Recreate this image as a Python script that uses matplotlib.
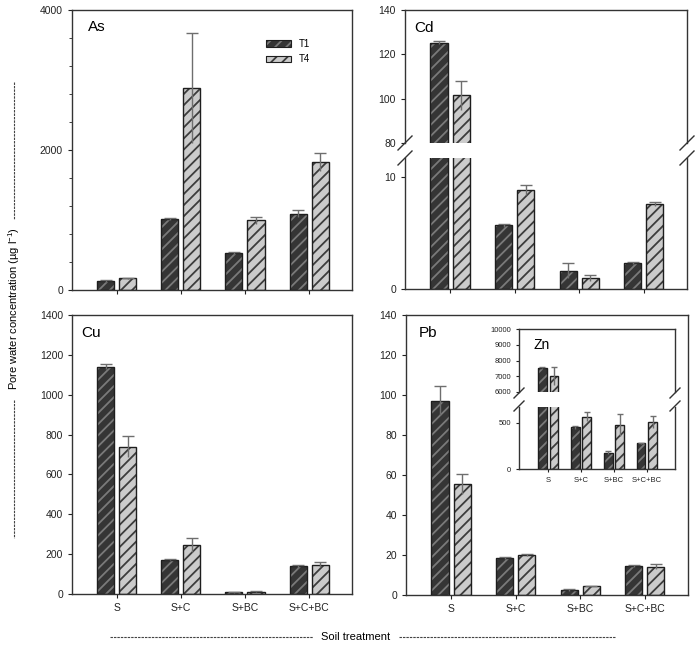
import numpy as np
import matplotlib
matplotlib.use("Agg")
import matplotlib.pyplot as plt
from matplotlib.lines import Line2D
from matplotlib.patches import Patch
from matplotlib.legend_handler import HandlerTuple

plt.rcParams['font.family'] = ['Liberation Sans', 'DejaVu Sans']
plt.rcParams['mathtext.fontset'] = 'custom'
plt.rcParams['mathtext.rm'] = 'Liberation Sans'
plt.rcParams['mathtext.it'] = 'Liberation Sans:italic'
plt.rcParams['hatch.linewidth'] = 1.3

treatments = ['S', 'S+C', 'S+BC', 'S+C+BC']
series = ['T1', 'T4']

# pore water concentrations (ug/l), mean and standard error
as_t1 = [128, 1009, 524, 1090]
as_t1_err = [8, 15, 14, 53]
as_t4 = [167, 2880, 995, 1824]
as_t4_err = [8, 787, 53, 128]

cd_t1 = [125.3, 5.68, 1.63, 2.31]
cd_t1_err = [0.7, 0.1, 0.68, 0.09]
cd_t4 = [101.5, 8.82, 0.98, 7.6]
cd_t4_err = [6.5, 0.44, 0.29, 0.18]

cu_t1 = [1141, 172, 8, 139]
cu_t1_err = [13, 3, 1, 8]
cu_t4 = [740, 247, 12, 147]
cu_t4_err = [55, 35, 2, 12]

pb_t1 = [97.2, 18.7, 2.5, 14.5]
pb_t1_err = [7.3, 0.5, 0.7, 0.3]
pb_t4 = [55.5, 20.0, 4.5, 14.2]
pb_t4_err = [5.0, 0.3, 0.2, 1.1]

zn_t1 = [7530, 450, 176, 277]
zn_t1_err = [30, 14, 18, 8]
zn_t4 = [7000, 565, 475, 511]
zn_t4_err = [580, 47, 115, 64]

W, H = 700, 649
fig = plt.figure(figsize=(W / 100, H / 100), dpi=100)

T1_FACE, T1_HATCH = '#353535', '#7a7a7a'
T4_FACE, T4_HATCH = '#cbcbcb', '#3c3c3c'
EDGE = '#1e1e1e'
SPINE = '#333333'
x = np.arange(len(treatments))


def rect(l, t, r, b):
    return [l / W, 1 - b / H, (r - l) / W, (b - t) / H]


def fpx(px, py):
    return px / W, 1 - py / H


def style(ax, fs=7.5, xlim=(-0.70, 3.67)):
    ax.set_xlim(*xlim)
    for s in ax.spines.values():
        s.set_color(SPINE)
        s.set_linewidth(1.0)
    ax.tick_params(direction='out', length=3, width=0.8, colors='#222222',
                   labelsize=fs, top=False, right=False)
    ax.set_xticks(x)


def draw_bars(ax, t1, e1, t4, e4, width=0.266, off=0.172, cap=4):
    for vals, errs, face, hc, sgn in [(t1, e1, T1_FACE, T1_HATCH, -1),
                                      (t4, e4, T4_FACE, T4_HATCH, 1)]:
        pos = x + sgn * off
        ax.bar(pos, vals, width, color=face, edgecolor=hc, hatch='///', lw=0, zorder=2)
        ax.bar(pos, vals, width, fill=False, edgecolor=EDGE, lw=1.0, zorder=3)
        eb = ax.errorbar(pos, vals, yerr=errs, fmt='none', ecolor='#6e6e6e',
                         elinewidth=1.0, capsize=cap, capthick=1.0, zorder=4)
        eb[1][0].set_visible(False)


def slash(cx, cy, dx=7, dy=7):
    x0, y0 = fpx(cx - dx, cy + dy)
    x1, y1 = fpx(cx + dx, cy - dy)
    fig.add_artist(Line2D([x0, x1], [y0, y1], transform=fig.transFigure,
                          color=SPINE, lw=1.0))


# ---- As ----
ax_as = fig.add_axes(rect(72, 10, 352, 290))
draw_bars(ax_as, as_t1, as_t1_err, as_t4, as_t4_err)
style(ax_as)
ax_as.set_ylim(0, 4000)
ax_as.set_yticks([0, 2000, 4000])
ax_as.set_yticks(np.arange(0, 4001, 400), minor=True)
ax_as.tick_params(which='minor', direction='out', length=2, width=0.6, colors='#222222')
ax_as.set_xticklabels([])
fig.text(*fpx(88, 27), 'As', fontsize=11, va='center', ha='left')

h1 = (Patch(facecolor=T1_FACE, edgecolor=T1_HATCH, hatch='///', lw=0),
      Patch(fill=False, edgecolor=EDGE, lw=0.8))
h4 = (Patch(facecolor=T4_FACE, edgecolor=T4_HATCH, hatch='///', lw=0),
      Patch(fill=False, edgecolor=EDGE, lw=0.8))
fig.legend([h1, h4], series, handler_map={tuple: HandlerTuple(ndivide=1, pad=0)},
           loc='upper left', bbox_to_anchor=fpx(266, 39), frameon=False,
           fontsize=7, handlelength=2.6, handleheight=0.7, labelspacing=0.55,
           handletextpad=0.8, borderpad=0, borderaxespad=0)

# ---- Cd (broken axis) ----
cd_up = fig.add_axes(rect(405, 10, 687, 143))
cd_lo = fig.add_axes(rect(405, 158, 687, 289))
for a in (cd_up, cd_lo):
    draw_bars(a, cd_t1, cd_t1_err, cd_t4, cd_t4_err)
    style(a)
cd_up.set_ylim(80, 140)
cd_up.set_yticks([80, 100, 120, 140])
cd_up.spines['bottom'].set_visible(False)
cd_up.tick_params(bottom=False, labelbottom=False)
cd_lo.set_ylim(0, 11.7)
cd_lo.set_yticks([0, 10])
cd_lo.spines['top'].set_visible(False)
cd_lo.set_xticklabels([])
for cx in (405, 687):
    slash(cx, 143)
    slash(cx, 158)
fig.text(*fpx(414, 28), 'Cd', fontsize=11, va='center', ha='left')

# ---- Cu ----
ax_cu = fig.add_axes(rect(72, 315, 352, 594))
draw_bars(ax_cu, cu_t1, cu_t1_err, cu_t4, cu_t4_err)
style(ax_cu)
ax_cu.set_ylim(0, 1400)
ax_cu.set_yticks(np.arange(0, 1401, 200))
ax_cu.set_xticklabels(treatments, fontsize=7.5)
fig.text(*fpx(81, 333), 'Cu', fontsize=11, va='center', ha='left')

# ---- Pb ----
ax_pb = fig.add_axes(rect(406, 315, 688, 595))
draw_bars(ax_pb, pb_t1, pb_t1_err, pb_t4, pb_t4_err)
style(ax_pb)
ax_pb.set_ylim(0, 140)
ax_pb.set_yticks(np.arange(0, 141, 20))
ax_pb.set_xticklabels(treatments, fontsize=7.5)
fig.text(*fpx(419, 333), 'Pb', fontsize=11, va='center', ha='left')

# ---- Zn inset (broken axis) ----
zn_up = fig.add_axes(rect(519, 329, 675, 392))
zn_lo = fig.add_axes(rect(519, 407, 675, 469))
for a in (zn_up, zn_lo):
    a.set_facecolor('white')
    draw_bars(a, zn_t1, zn_t1_err, zn_t4, zn_t4_err, width=0.27, off=0.18, cap=2.5)
    style(a, fs=5.5, xlim=(-0.88, 3.85))
    a.tick_params(length=2)
zn_up.set_ylim(6000, 10000)
zn_up.set_yticks(np.arange(6000, 10001, 1000))
zn_up.spines['bottom'].set_visible(False)
zn_up.tick_params(bottom=False, labelbottom=False)
zn_lo.set_ylim(0, 670)
zn_lo.set_yticks([0, 500])
zn_lo.spines['top'].set_visible(False)
zn_lo.set_xticklabels(treatments, fontsize=5.5)
for cx in (519, 675):
    slash(cx, 393, 5, 5)
    slash(cx, 406, 5, 5)
fig.text(*fpx(533, 345), 'Zn', fontsize=10, va='center', ha='left')

# ---- shared axis titles with dashed leaders ----
dash = dict(color='#444444', lw=0.8, linestyle=(0, (2.2, 0.9)), transform=fig.transFigure)
fig.text(*fpx(14, 309), 'Pore water concentration (µg l$^{-1}$)', rotation=90,
         fontsize=8, ha='center', va='center')
for ya, yb in [(82, 219), (400, 538)]:
    x0, y0 = fpx(14, ya)
    _, y1 = fpx(14, yb)
    fig.add_artist(Line2D([x0, x0], [y0, y1], **dash))

fig.text(*fpx(356, 637), 'Soil treatment', fontsize=8, ha='center', va='center')
for xa, xb in [(110, 313), (399, 615)]:
    x0, y0 = fpx(xa, 637)
    x1, _ = fpx(xb, 637)
    fig.add_artist(Line2D([x0, x1], [y0, y0], **dash))

fig.savefig('out.png', dpi=100)
